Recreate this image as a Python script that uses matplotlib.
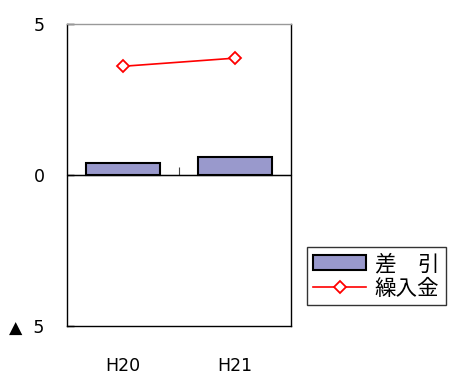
import matplotlib
matplotlib.use("Agg")
import matplotlib.pyplot as plt
import numpy as np

plt.rcParams['font.family'] = ['DejaVu Sans', 'Noto Sans CJK JP']

# データ
categories = ['H20', 'H21']
sashihiki = [0.4, 0.6]      # 差引
kuriire = [3.6, 3.87]       # 繰入金
ytick_vals = [-5, 0, 5]
ytick_labels = ['▲  5', '0', '5']

fig = plt.figure(figsize=(4.51, 3.79), dpi=100)
ax = fig.add_axes([67 / 451, 53 / 379, 224 / 451, 302 / 379])

x = np.arange(len(categories))
bars = ax.bar(x, sashihiki, width=0.66, color='#9999CC', edgecolor='black',
              linewidth=1.5, label='差\u3000引', zorder=3)
line, = ax.plot(x, kuriire, color='#FF0000', linewidth=1.2, marker='D', markersize=6,
                markerfacecolor='white', markeredgecolor='#FF0000', markeredgewidth=1.3,
                label='繰入金', zorder=4)

ax.axhline(0, color='black', linewidth=1, zorder=2)

ax.set_xlim(-0.5, 1.5)
ax.set_ylim(-5, 5)
ax.set_yticks(ytick_vals)
ax.set_yticklabels(ytick_labels, fontsize=12.5)
ax.tick_params(axis='y', direction='in', length=5, width=1, pad=16)
ax.set_xticks(x)
ax.set_xticklabels(categories, fontsize=12.5)
ax.tick_params(axis='x', length=0, pad=22)

# 区切りの目盛り（ゼロ線上）
sec = ax.secondary_xaxis(0.5)
sec.set_xticks([0.5])
sec.set_xticklabels([''])
sec.tick_params(direction='out', length=6, width=0.8, color='#444444')
sec.spines['bottom'].set_visible(False)

for side in ['left', 'right', 'bottom']:
    ax.spines[side].set_color('black')
    ax.spines[side].set_linewidth(1)
ax.spines['top'].set_color('#999999')
ax.spines['top'].set_linewidth(1)

leg = ax.legend([bars, line], ['差\u3000引', '繰入金'],
                loc='upper left', bbox_to_anchor=(307 / 451, 1 - 247 / 379),
                bbox_transform=fig.transFigure, fontsize=15.5, frameon=True,
                fancybox=False, edgecolor='black', handlelength=2.45,
                handletextpad=0.4, borderpad=0.3, labelspacing=0.2,
                borderaxespad=0)
leg.get_frame().set_linewidth(1)

fig.savefig('out.png', dpi=100)
